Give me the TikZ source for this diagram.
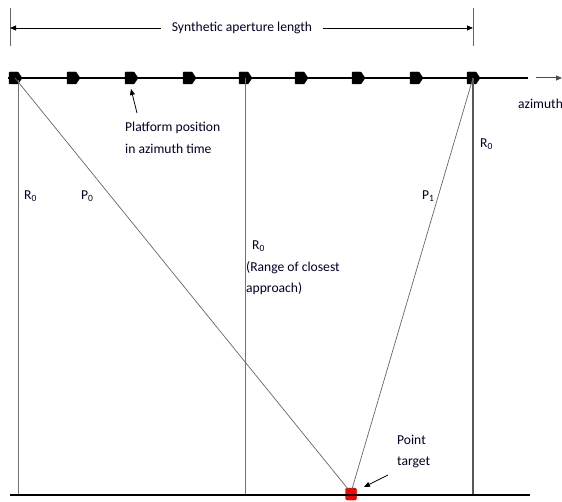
\documentclass[tikz,border=0pt]{standalone}
\usepackage{fontspec}
\setmainfont{Carlito}
\usetikzlibrary{arrows.meta}
\begin{document}
\begin{tikzpicture}[x=1pt,y=-1pt,
  lbl/.style={inner sep=0pt,anchor=west,font=\fontsize{13.6}{15}\selectfont,text=black!85!blue},
  plat/.style={fill=black,draw=black,line join=round,rounded corners=0.6pt},
  gline/.style={draw=black!55,line width=0.8pt},
  diag/.style={draw=black!60,line width=0.7pt},
  ptr/.style={-{Triangle[length=6pt,width=5pt]},line width=0.8pt}]
\useasboundingbox (0,0) rectangle (562,502);
% dimension line
\coordinate (tl1) at (10,8); \coordinate (tl2) at (10,46);
\coordinate (tr1) at (473,8); \coordinate (tr2) at (473,46);
\draw[black!60,line width=0.8pt] (tl1) -- (tl2);
\draw[black!60,line width=0.8pt] (tr1) -- (tr2);
\node[inner sep=2pt,font=\fontsize{13.6}{15}\selectfont,text=black!85!blue] (sal) at (242,28) {Synthetic aperture length};
\coordinate (dl) at (10,28); \coordinate (dr) at (473,28);
\draw[-{Triangle[length=6pt,width=5pt]},line width=0.9pt] (sal.west) ++(-9,0) -- (dl);
\draw[-{Triangle[length=6pt,width=5pt]},line width=0.9pt] (sal.east) ++(9,0) -- (dr);
% platform track
\coordinate (ps) at (8,78); \coordinate (pe) at (528,78);
\draw[line width=1.3pt] (ps) -- (pe);
\coordinate (aa) at (536,78); \coordinate (ab) at (562,78);
\draw[black!70,line width=1pt,-{Triangle[length=6pt,width=5pt]}] (aa) -- (ab);
\node[lbl] (az) at (518,104) {azimuth};
% platform markers
\foreach \n/\x in {m1/15,m2/73,m3/131,m4/189,m5/245,m6/301,m7/358,m8/416,m9/473}{
  \coordinate (\n) at (\x,78);
  \fill[plat] (\x-6,72) -- (\x+3,72) -- (\x+7,78) -- (\x+3,84) -- (\x-6,84) -- cycle;
}
% verticals
\coordinate (v1t) at (18,80); \coordinate (v1b) at (18,494);
\coordinate (v2b) at (245,494);
\coordinate (v3b) at (473,494);
\draw[gline] (v1t) -- (v1b);
\draw[gline] (m5) -- (v2b);
\draw[draw=black!65,line width=1.2pt] (m9) -- (v3b);
% ground
\coordinate (g1) at (10,495); \coordinate (g2) at (530,495);
% target
\node[draw=red!70!black,fill=red,rounded corners=1.5pt,minimum width=11pt,minimum height=12pt,inner sep=0pt] (tg) at (351,494) {};
\draw[diag] (m1) -- (348,489);
\draw[diag] (m9) -- (352,489);
\draw[line width=1.8pt] (g1) -- (g2);
% labels
\node[lbl] (r0a) at (24,196) {R\textsubscript{0}};
\node[lbl] (p0) at (81,196) {P\textsubscript{0}};
\node[lbl] (p1) at (422,196) {P\textsubscript{1}};
\node[lbl] (r0c) at (480,144) {R\textsubscript{0}};
\node[lbl] (r0b) at (252,246) {R\textsubscript{0}};
\node[lbl,align=left,anchor=north west,font=\fontsize{13.6}{21}\selectfont] (rca) at (246,261) {(Range of closest\\approach)};
\node[lbl,align=left,anchor=north west,font=\fontsize{13.6}{22}\selectfont] (pp) at (125,122) {Platform position\\in azimuth time};
\node[lbl,align=left,anchor=north west,font=\fontsize{13.6}{21}\selectfont] (pt) at (397,435) {Point\\target};
% pointers
\coordinate (pa1) at (137,113);
\coordinate (pa1e) at (131,89);
\draw[ptr] (pa1) -- (pa1e);
\coordinate (pa2) at (388,475);
\coordinate (pa2e) at (364,487);
\draw[ptr] (pa2) -- (pa2e);
\end{tikzpicture}
\end{document}
